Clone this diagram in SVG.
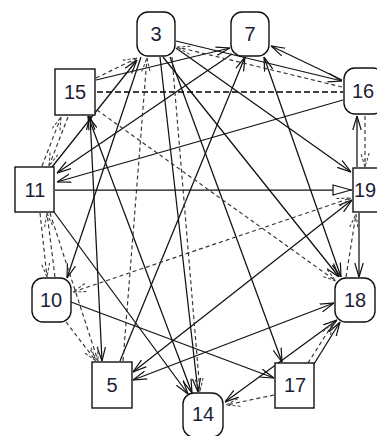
<svg xmlns="http://www.w3.org/2000/svg" width="377" height="436" viewBox="0 0 377 436">
<style>
.s{stroke:#111;stroke-width:1.25;fill:none}
.d{stroke:#333;stroke-width:1.15;fill:none;stroke-dasharray:4,3}
.dt{stroke:#000;stroke-width:1.5;fill:none;stroke-dasharray:6,3}
.sa{marker-end:url(#a)}
.sb{marker-start:url(#as);marker-end:url(#a)}
.da{marker-end:url(#ad)}
.db{marker-start:url(#ads);marker-end:url(#ad)}
.n{fill:#fff;stroke:#111;stroke-width:1.4}
.t{font-family:"Liberation Sans",Arial,sans-serif;font-size:20px;fill:#1d1d35;text-anchor:middle}
</style>
<defs>
<marker id="a" viewBox="0 0 14 10" refX="14" refY="5" markerWidth="14" markerHeight="10" orient="auto" markerUnits="userSpaceOnUse"><path d="M0,0.8 L14,5 L0,9.2" fill="none" stroke="#111" stroke-width="1.2"/></marker>
<marker id="as" viewBox="0 0 14 10" refX="0" refY="5" markerWidth="14" markerHeight="10" orient="auto" markerUnits="userSpaceOnUse"><path d="M14,0.8 L0,5 L14,9.2" fill="none" stroke="#111" stroke-width="1.2"/></marker>
<marker id="ad" viewBox="0 0 14 10" refX="14" refY="5" markerWidth="14" markerHeight="10" orient="auto" markerUnits="userSpaceOnUse"><path d="M0,0.8 L14,5 L0,9.2" fill="none" stroke="#444" stroke-width="1.1" stroke-dasharray="3,2"/></marker>
<marker id="ads" viewBox="0 0 14 10" refX="0" refY="5" markerWidth="14" markerHeight="10" orient="auto" markerUnits="userSpaceOnUse"><path d="M14,0.8 L0,5 L14,9.2" fill="none" stroke="#444" stroke-width="1.1" stroke-dasharray="3,2"/></marker>
<marker id="tri" viewBox="0 0 20 12" refX="20" refY="6" markerWidth="20" markerHeight="12" orient="auto" markerUnits="userSpaceOnUse"><path d="M1,1 L19,6 L1,11 Z" fill="#fff" stroke="#111" stroke-width="1.2"/></marker>
</defs>
<g id="connectors">
<line class="s" x1="55" y1="190" x2="352" y2="190" marker-end="url(#tri)"/>
<line class="s sa" x1="343" y1="100" x2="57" y2="182"/>
<line class="s sa" x1="342" y1="80" x2="271" y2="46"/>
<line class="s sa" x1="176" y1="48" x2="351" y2="172"/>
<line class="s sa" x1="163" y1="57" x2="339" y2="277"/>
<line class="s sb" x1="264" y1="57" x2="341" y2="277"/>
<line class="s sa" x1="160" y1="57" x2="198" y2="392"/>
<line class="s sb" x1="88" y1="116" x2="192" y2="393"/>
<line class="s sa" x1="54" y1="212" x2="188" y2="394"/>
<line class="s sa" x1="141" y1="57" x2="67" y2="278"/>
<line class="s sa" x1="71" y1="302" x2="274" y2="378"/>
<line class="s sa" x1="52" y1="167" x2="137" y2="60"/>
<line class="s sa" x1="120" y1="361" x2="245" y2="57"/>
<line class="s sa" x1="232" y1="54" x2="57" y2="173"/>
<line class="s sa" x1="96" y1="80" x2="230" y2="48"/>
<line class="s sa" x1="170" y1="57" x2="282" y2="362"/>
<line class="s sb" x1="90" y1="116" x2="102" y2="361"/>
<line class="s sb" x1="133" y1="372" x2="352" y2="200"/>
<line class="s sb" x1="133" y1="380" x2="334" y2="303"/>
<line class="s sb" x1="225" y1="402" x2="337" y2="320"/>
<line class="s sa" x1="314" y1="364" x2="340" y2="322"/>
<line class="s sa" x1="359" y1="213" x2="359" y2="277"/>
<line class="s sa" x1="357" y1="167" x2="357" y2="116"/>
<line class="s sa" x1="176" y1="41" x2="342" y2="81"/>
<line class="dt" x1="97" y1="92" x2="343" y2="92"/>
<line class="d da" x1="97" y1="110" x2="336" y2="281"/>
<line class="d db" x1="73" y1="292" x2="351" y2="198"/>
<line class="d da" x1="342" y1="87" x2="177" y2="47"/>
<line class="d da" x1="96" y1="78" x2="137" y2="58"/>
<line class="d da" x1="123" y1="361" x2="147" y2="58"/>
<line class="d da" x1="172" y1="57" x2="200" y2="392"/>
<line class="d da" x1="42" y1="166" x2="61" y2="117"/>
<line class="d da" x1="68" y1="117" x2="49" y2="166"/>
<line class="d da" x1="40" y1="213" x2="47" y2="277"/>
<line class="d da" x1="55" y1="277" x2="47" y2="213"/>
<line class="d da" x1="66" y1="322" x2="96" y2="361"/>
<line class="d da" x1="50" y1="213" x2="98" y2="361"/>
<line class="d da" x1="274" y1="395" x2="226" y2="405"/>
<line class="d da" x1="308" y1="363" x2="334" y2="322"/>
<line class="d da" x1="346" y1="277" x2="356" y2="214"/>
<line class="d da" x1="365" y1="116" x2="365" y2="167"/>
</g>
<g id="node3"><rect class="n" x="137" y="12" width="38" height="44" rx="11"/><text class="t" x="156" y="41">3</text></g>
<g id="node7"><rect class="n" x="231" y="12" width="38" height="44" rx="11"/><text class="t" x="250" y="41">7</text></g>
<g id="node15"><rect class="n" x="55" y="69" width="40" height="46"/><text class="t" x="75" y="99">15</text></g>
<g id="node16"><rect class="n" x="344" y="68" width="40" height="46" rx="11"/><text class="t" x="363" y="98">16</text></g>
<g id="node11"><rect class="n" x="15" y="167" width="39" height="45"/><text class="t" x="35" y="197">11</text></g>
<g id="node19"><rect class="n" x="353" y="168" width="40" height="44"/><text class="t" x="365" y="197">19</text></g>
<g id="node10"><rect class="n" x="32" y="278" width="39" height="44" rx="11"/><text class="t" x="51" y="307">10</text></g>
<g id="node18"><rect class="n" x="335" y="278" width="40" height="44" rx="11"/><text class="t" x="355" y="307">18</text></g>
<g id="node5"><rect class="n" x="92" y="362" width="40" height="46"/><text class="t" x="112" y="392">5</text></g>
<g id="node17"><rect class="n" x="275" y="363" width="39" height="45"/><text class="t" x="295" y="392">17</text></g>
<g id="node14"><rect class="n" x="183" y="393" width="40" height="44" rx="11"/><text class="t" x="203" y="421">14</text></g>
</svg>
